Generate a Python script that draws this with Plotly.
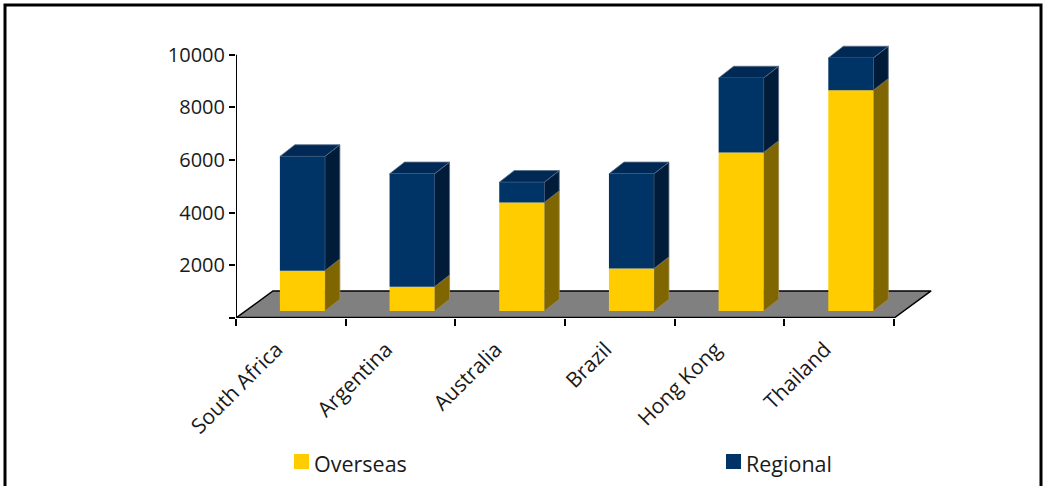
import plotly.graph_objects as go

# ---- data -------------------------------------------------------------
countries = ["South Africa", "Argentina", "Australia", "Brazil", "Hong Kong", "Thailand"]
overseas = [1530, 920, 4120, 1610, 6020, 8380]
regional = [4340, 4290, 770, 3600, 2830, 1230]
series_names = ["Overseas", "Regional"]
y_tick_values = [0, 2000, 4000, 6000, 8000, 10000]
y_tick_labels = ["", "2000", "4000", "6000", "8000", "10000"]

# ---- styling ----------------------------------------------------------
W, H = 1044, 486
FONT = "Open Sans"
YELLOW, YELLOW_SIDE = "#FFCC00", "#806600"
BLUE, BLUE_SIDE, BLUE_TOP = "#003366", "#001C38", "#002A55"
FLOOR = "#808080"

X_MIN, X_MAX = -0.5, 5.9
Y_MAX = 10558
L, R, T, B = 236, 106, 40, 168

FLOOR_DX, FLOOR_DY = 0.337, 1027     # floor depth (x units, value units)
FRONT_DX, FRONT_DY = 0.105, 266      # offset of bar front face from the front edge
SIDE_DX, SIDE_DY = 0.137, 445        # bar depth
BAR_W = 0.41

n = len(countries)
plot_w = W - L - R
plot_h = H - T - B


def px_to_paper(px, py):
    return (px - L) / plot_w, (H - B - py) / plot_h


def polys(shapes_list):
    xs, ys = [], []
    for pts in shapes_list:
        for (a, b) in pts:
            xs.append(a)
            ys.append(b)
        xs.append(pts[0][0])
        ys.append(pts[0][1])
        xs.append(None)
        ys.append(None)
    return xs, ys


fig = go.Figure()

# floor
floor_pts = [(X_MIN, 0), (n - 0.5, 0), (n - 0.5 + FLOOR_DX, FLOOR_DY), (X_MIN + FLOOR_DX, FLOOR_DY)]
fx, fy = polys([floor_pts])
fig.add_trace(go.Scatter(x=fx, y=fy, mode="lines", fill="toself", fillcolor=FLOOR,
                         line=dict(color="black", width=1.5), hoverinfo="skip", showlegend=False))

# bar faces
faces = {"of": [], "os": [], "rf": [], "rs": [], "rt": []}
for i in range(n):
    xl = i + FRONT_DX - BAR_W / 2
    xr = i + FRONT_DX + BAR_W / 2
    segs = [("o", 0, overseas[i]), ("r", overseas[i], overseas[i] + regional[i])]
    for key, s, e in segs:
        y0, y1 = s + FRONT_DY, e + FRONT_DY
        faces[key + "f"].append([(xl, y0), (xr, y0), (xr, y1), (xl, y1)])
        faces[key + "s"].append([(xr, y0), (xr + SIDE_DX, y0 + SIDE_DY),
                                 (xr + SIDE_DX, y1 + SIDE_DY), (xr, y1)])
    top = overseas[i] + regional[i] + FRONT_DY
    faces["rt"].append([(xl, top), (xr, top), (xr + SIDE_DX, top + SIDE_DY), (xl + SIDE_DX, top + SIDE_DY)])

face_style = {
    "of": (YELLOW, YELLOW, 0),
    "os": (YELLOW_SIDE, "#9c8a4a", 0.8),
    "rf": (BLUE, BLUE, 0),
    "rs": (BLUE_SIDE, "#5c6f88", 0.8),
    "rt": (BLUE_TOP, "#5c6f88", 0.8),
}
for key in ["os", "rs", "rt", "of", "rf"]:
    fill, lc, lw = face_style[key]
    xs, ys = polys(faces[key])
    fig.add_trace(go.Scatter(x=xs, y=ys, mode="lines", fill="toself", fillcolor=fill,
                             line=dict(color=lc, width=lw), hoverinfo="skip", showlegend=False))

# front axis lines
fig.add_shape(type="line", x0=X_MIN, y0=0, x1=n - 0.5, y1=0, line=dict(color="black", width=2.5))
fig.add_shape(type="line", x0=X_MIN, y0=0, x1=X_MIN, y1=y_tick_values[-1], line=dict(color="black", width=2))

# legend
legend_items = [(series_names[0], YELLOW, 294), (series_names[1], BLUE, 726)]
for name, col, px in legend_items:
    x0, y0 = px_to_paper(px, 469)
    x1, y1 = px_to_paper(px + 15, 454)
    fig.add_shape(type="rect", xref="paper", yref="paper", x0=x0, y0=y0, x1=x1, y1=y1,
                  fillcolor=col, line=dict(width=0))
    tx, ty = px_to_paper(px + 18, 464)
    fig.add_annotation(xref="paper", yref="paper", x=tx, y=ty, text=name, showarrow=False,
                       xanchor="left", yanchor="middle",
                       font=dict(family=FONT, size=21.5, color="#1a1a1a"))

# outer frame
bx0, by0 = px_to_paper(5, 500)
bx1, by1 = px_to_paper(1041, 5)
fig.add_shape(type="rect", xref="paper", yref="paper", x0=bx0, y0=by0, x1=bx1, y1=by1,
              line=dict(color="black", width=3), fillcolor="rgba(0,0,0,0)")

fig.update_layout(
    width=W, height=H,
    margin=dict(l=L, r=R, t=T, b=B),
    paper_bgcolor="white", plot_bgcolor="white",
    showlegend=False,
    font=dict(family=FONT, size=20, color="#1a1a1a"),
    xaxis=dict(range=[X_MIN, X_MAX], tickvals=[k - 0.5 for k in range(n + 1)],
               showticklabels=False, ticks="outside", ticklen=7, tickwidth=1.5,
               tickcolor="black", showgrid=False, zeroline=False, showline=False),
    xaxis2=dict(range=[X_MIN, X_MAX], overlaying="x", anchor="y", side="bottom",
                tickvals=[k - 0.13 for k in range(n)], ticktext=countries,
                tickangle=-45, ticks="", showgrid=False, zeroline=False, showline=False,
                ticklabelstandoff=14,
                tickfont=dict(family=FONT, size=21, color="#1a1a1a")),
    yaxis=dict(range=[0, Y_MAX], tickvals=y_tick_values, ticktext=y_tick_labels,
               ticks="outside", ticklen=6, tickwidth=1.5, tickcolor="black",
               showgrid=False, zeroline=False, showline=False,
               tickfont=dict(family=FONT, size=20, color="#1a1a1a")),
)
# a dummy trace on the label axis so it is rendered
fig.add_trace(go.Scatter(x=[None], y=[None], xaxis="x2", yaxis="y", showlegend=False))

fig.write_html("out.html")
